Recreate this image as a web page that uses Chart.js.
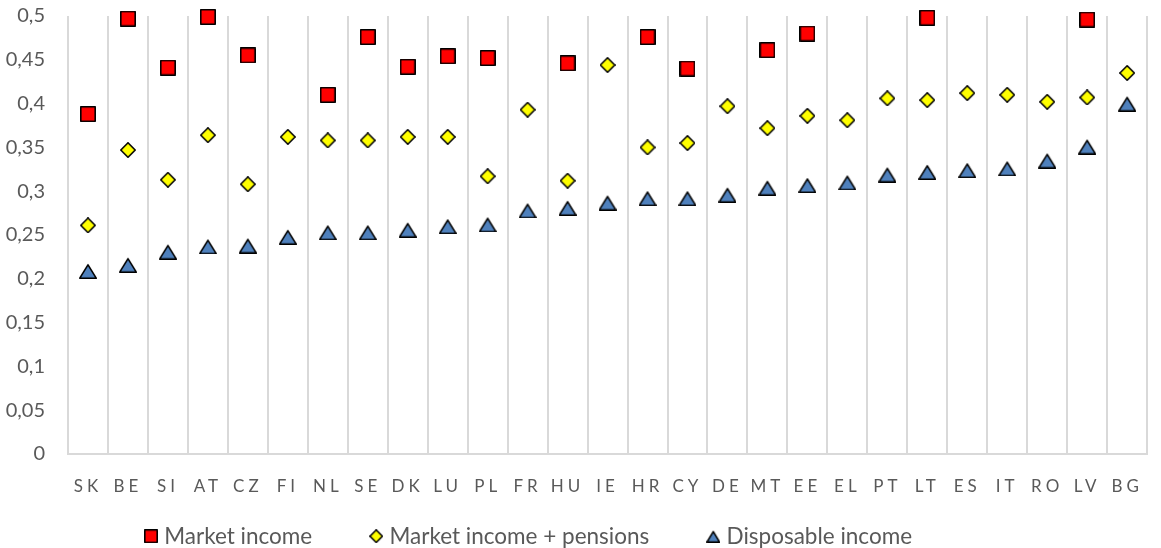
<!DOCTYPE html>
<html>
<head>
<meta charset="utf-8">
<script src="https://cdn.jsdelivr.net/npm/chart.js@4.4.0/dist/chart.umd.min.js"></script>
<style>
  html, body { margin: 0; padding: 0; background: #ffffff; }
  #wrap { width: 1161px; height: 548px; }
</style>
</head>
<body>
<div id="wrap"><canvas id="gini-chart"></canvas></div>
<script>
// Gini coefficients per country, three income concepts
var countries = ["SK", "BE", "SI", "AT", "CZ", "FI", "NL", "SE", "DK", "LU", "PL", "FR", "HU", "IE",
    "HR", "CY", "DE", "MT", "EE", "EL", "PT", "LT", "ES", "IT", "RO", "LV", "BG"];

// null = above the top of the axis
var marketIncome = [0.388, 0.497, 0.441, 0.499, 0.455, null, 0.410, 0.476, 0.442, 0.454, 0.452, null, 0.446, null,
    0.476, 0.440, null, 0.461, 0.480, null, null, 0.498, null, null, null, 0.496, null];

var marketIncomePensions = [0.261, 0.347, 0.313, 0.364, 0.308, 0.362, 0.358, 0.358, 0.362, 0.362, 0.317, 0.393, 0.312, 0.444,
    0.350, 0.355, 0.397, 0.372, 0.386, 0.381, 0.406, 0.404, 0.412, 0.410, 0.402, 0.407, 0.435];

var disposableIncome = [0.209, 0.216, 0.231, 0.237, 0.238, 0.248, 0.253, 0.253, 0.256, 0.260, 0.262, 0.278, 0.281, 0.287,
    0.292, 0.292, 0.296, 0.304, 0.307, 0.310, 0.319, 0.322, 0.324, 0.326, 0.335, 0.351, 0.400];

var yMin = 0;
var yMax = 0.5;
var yStep = 0.05;

// marker sprites, black outline
function makeMarker(shape, w, h, fill) {
    var c = document.createElement("canvas");
    c.width = w;
    c.height = h;
    var g = c.getContext("2d");
    var lw = 1.6;
    var p = lw / 2;
    g.beginPath();
    if (shape === "square") {
        g.rect(p, p, w - lw, h - lw);
    } else if (shape === "diamond") {
        g.moveTo(w / 2, p);
        g.lineTo(w - p, h / 2);
        g.lineTo(w / 2, h - p);
        g.lineTo(p, h / 2);
        g.closePath();
    } else {
        g.moveTo(w / 2, lw * 1.2);
        g.lineTo(w - p, h - p);
        g.lineTo(p, h - p);
        g.closePath();
    }
    g.fillStyle = fill;
    g.fill();
    g.lineWidth = lw;
    g.lineJoin = "round";
    g.strokeStyle = "#000000";
    g.stroke();
    return c;
}

var red = "#ff0000", yellow = "#ffff00", blue = "#4f81bd";
var plotMarkers = [makeMarker("square", 16, 16, red), makeMarker("diamond", 16, 16, yellow), makeMarker("triangle", 18, 16, blue)];
var legendMarkers = [makeMarker("square", 14, 14, red), makeMarker("diamond", 14, 14, yellow), makeMarker("triangle", 14, 13, blue)];

// wider letter spacing on the country codes (drawn below the axis box), legend nudged left
var axisTweaks = {
    id: "axisTweaks",
    afterLayout: function (chart) {
        chart.legend.left = 87;
    },
    beforeDraw: function (chart) {
        var xs = chart.scales.x;
        if (!xs._spaced) {
            var base = xs.drawLabels;
            xs._computeLabelArea = function () { return null; };
            xs.drawLabels = function (area) {
                this.ctx.save();
                this.ctx.letterSpacing = "4px";
                base.call(this, area);
                this.ctx.restore();
            };
            xs._spaced = true;
        }
    }
};

Chart.defaults.font.family = "Lato";
Chart.defaults.color = "#595959";

function series(label, values, idx) {
    return {
        label: label,
        data: values,
        showLine: false,
        pointStyle: plotMarkers[idx],
        pointRadius: 8,
        pointHoverRadius: 8,
        clip: false
    };
}

var giniChart = new Chart(document.getElementById("gini-chart").getContext("2d"), {
    type: "line",
    data: {
        labels: countries,
        datasets: [
            series("Market income", marketIncome, 0),
            series("Market income + pensions", marketIncomePensions, 1),
            series("Disposable income", disposableIncome, 2)
        ]
    },
    options: {
        responsive: true,
        maintainAspectRatio: false,
        animation: false,
        layout: { padding: { top: 16, right: 1, left: 0, bottom: 0 } },
        scales: {
            x: {
                offset: true,
                grid: { offset: true, color: "#d9d9d9", lineWidth: 2, drawTicks: false },
                border: { color: "#d9d9d9", width: 2 },
                ticks: { font: { size: 17 }, padding: 22, maxRotation: 0, autoSkip: false },
                afterFit: function (scale) { scale.height = 9; }
            },
            y: {
                min: yMin,
                max: yMax,
                grid: { display: false, drawTicks: false },
                border: { display: false },
                ticks: {
                    stepSize: yStep,
                    padding: 23,
                    font: { size: 20 },
                    callback: function (v) {
                        return Number(v.toFixed(2)).toString().replace(".", ",");
                    }
                },
                afterFit: function (scale) {
                    scale.width = 68;
                    scale.paddingTop = 0;
                    scale.paddingBottom = 0;
                }
            }
        },
        plugins: {
            tooltip: { enabled: false },
            legend: {
                position: "bottom",
                align: "start",
                maxHeight: 85,
                labels: {
                    usePointStyle: true,
                    pointStyleWidth: 4,
                    padding: 62,
                    font: { size: 22.5 },
                    color: "#595959",
                    generateLabels: function (chart) {
                        var items = Chart.defaults.plugins.legend.labels.generateLabels(chart);
                        items.forEach(function (item, i) { item.pointStyle = legendMarkers[i]; });
                        return items;
                    }
                }
            }
        }
    },
    plugins: [axisTweaks]
});
</script>
</body>
</html>
